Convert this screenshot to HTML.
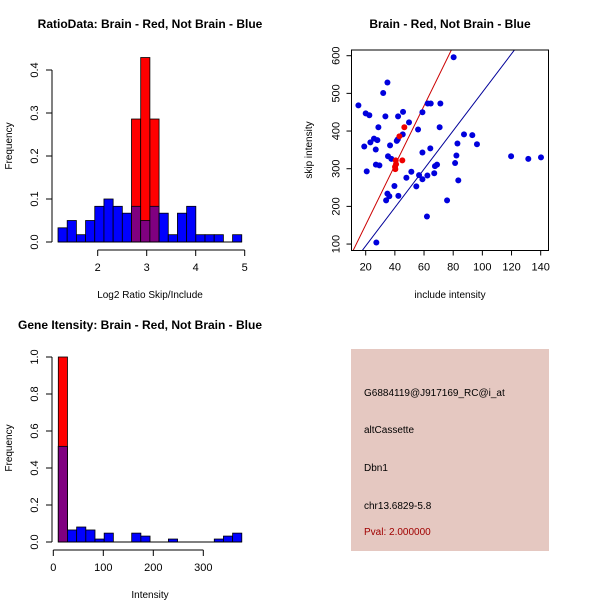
<!DOCTYPE html>
<html><head><meta charset="utf-8"><style>
body{margin:0;background:#fff}
svg{display:block;font-family:"Liberation Sans",sans-serif}
</style></head><body>
<svg id="s" width="600" height="600" xmlns="http://www.w3.org/2000/svg">
<rect width="600" height="600" fill="#fff"/>
<g id="p1"></g>
<g id="p2"></g>
<g id="p3"></g>
<g>
<rect x="351" y="349" width="198" height="202" fill="#e5c8c1"/>
<g font-size="10" fill="#000">
<text x="364" y="396">G6884119@J917169_RC@i_at</text>
<text x="364" y="433">altCassette</text>
<text x="364" y="471">Dbn1</text>
<text x="364" y="509">chr13.6829-5.8</text>
<text x="364" y="535" fill="#a00000">Pval: 2.000000</text>
</g></g>
</svg>
<script>
// Plot 1 data
const ratioBins1Start = 1.19, ratioBinWidth = 0.1875;
const ratioBlue = [0.033,0.05,0.017,0.05,0.083,0.1,0.083,0.067,0.083,0.05,0.083,0.067,0.017,0.067,0.083,0.017,0.017,0.017,0,0.017];
const ratioRed  = [0,0,0,0,0,0,0,0,0.286,0.429,0.286,0,0,0,0,0,0,0,0,0];
const ratioXTicks = [2,3,4,5];
const ratioYTicks = [0.0,0.1,0.2,0.3,0.4];
// Plot 2 data
const incBlue = [15,20,22.5,19,20.7,23.2,25.7,26.9,28,28.7,27,29.4,27.3,32,34.9,33.5,35.3,36.7,37.6,34.9,36.2,34,39.7,42.2,41.3,42,45.4,45.6,42.4,47.9,49.7,51.3,54.7,55.9,58.9,56.6,58.9,58.9,62,62.3,62.5,64.6,64.3,67,67.5,68.9,70.7,71.2,75.8,80.3,81.3,82.2,82.9,83.5,87.4,93.1,96.3,119.7,131.5,140.2];
const skipBlue = [468,447,442,359,293,370,380,351,376,410,311,309,104,501,529,439,333,362,326,234,227,216,254,439,374,378,391,451,228,276,423,292,253,404,450,283,272,343,173,282,473,473,354,288,307,311,410,473,216,596,315,335,367,269,391,389,365,333,326,330];
const incRed = [46.5,43.1,45.1,40.6,40.1,40.3,40.8];
const skipRed = [410,386,322,322,305,299,312];
const lineSlopes = [7.9,5.1];
const lineIntercepts = [-7,-7];
const scatXTicks = [20,40,60,80,100,120,140];
const scatYTicks = [100,200,300,400,500,600];
// Plot 3 data
const intStart = 10, intBinWidth = 18.35;
const intBlue = [0.517,0.065,0.081,0.065,0.016,0.048,0,0,0.048,0.032,0,0,0.016,0,0,0,0,0.016,0.032,0.048];
const intRed  = [1.0,0,0,0,0,0,0,0,0,0,0,0,0,0,0,0,0,0,0,0];
const intXTicks = [0,100,200,300];
const intYTicks = [0.0,0.2,0.4,0.6,0.8,1.0];

const NS="http://www.w3.org/2000/svg";
function mk(parent,tag,attrs,txt){const e=document.createElementNS(NS,tag);for(const k in attrs)e.setAttribute(k,attrs[k]);if(txt!==undefined)e.textContent=txt;parent.appendChild(e);return e;}

function hist(g,o){
  const sx=v=>o.x0px+(v-o.x0)*o.kx, sy=v=>o.y0px-v*o.ky;
  o.blue.forEach((b,i)=>{
    const r=o.red[i], a=o.start+i*o.w, x=sx(a), w=sx(a+o.w)-x;
    if(b>0){const e=mk(g,'rect',{x:x,y:sy(b),width:w,height:sy(0)-sy(b),fill:'#0000ff',stroke:'#000','stroke-width':0.8});
      
      }
    if(r>0){const e=mk(g,'rect',{x:x,y:sy(r),width:w,height:sy(0)-sy(r),fill:'#ff0000',stroke:'#000','stroke-width':0.8});
      
      }
    const m=Math.min(b,r);
    if(m>0){const e=mk(g,'rect',{x:x,y:sy(m),width:w,height:sy(0)-sy(m),fill:'#800080',stroke:'#000','stroke-width':0.8});
      
      }
  });
  const ya=o.yTicks;
  mk(g,'line',{x1:o.yAxisX,x2:o.yAxisX,y1:sy(ya[0]),y2:sy(ya[ya.length-1]),stroke:'#000'});
  ya.forEach(t=>{mk(g,'line',{x1:o.yAxisX-6,x2:o.yAxisX,y1:sy(t),y2:sy(t),stroke:'#000'});
    const lx=o.yAxisX-14;
    const tx=mk(g,'text',{x:lx,y:sy(t),'font-size':11,'text-anchor':'middle',transform:`rotate(-90 ${lx} ${sy(t)})`},t.toFixed(1));
    
    });
  const xa=o.xTicks, axY=o.y0px+8;
  mk(g,'line',{x1:sx(xa[0]),x2:sx(xa[xa.length-1]),y1:axY,y2:axY,stroke:'#000'});
  xa.forEach(t=>{mk(g,'line',{x1:sx(t),x2:sx(t),y1:axY,y2:axY+6,stroke:'#000'});
    const tx=mk(g,'text',{x:sx(t),y:axY+21,'font-size':11,'text-anchor':'middle'},t);
    
    });
  mk(g,'line',{x1:sx(o.start),x2:sx(o.start+o.w*o.blue.length),y1:o.y0px,y2:o.y0px,stroke:'#000'});
}

hist(document.getElementById('p1'),{x0:3,x0px:146.7,kx:49,y0px:242,ky:430,start:ratioBins1Start,w:ratioBinWidth,blue:ratioBlue,red:ratioRed,xTicks:ratioXTicks,yTicks:ratioYTicks,yAxisX:52});
hist(document.getElementById('p3'),{x0:0,x0px:53.3,kx:0.5,y0px:542,ky:185,start:intStart,w:intBinWidth,blue:intBlue,red:intRed,xTicks:intXTicks,yTicks:intYTicks,yAxisX:52});

(function(){
  const g=document.getElementById('p2');
  const sx=v=>365.7+(v-20)*1.4583, sy=v=>55.7+(600-v)*0.3767;
  const L=351.5,R=548.5,T=50,B=250.5;
  mk(g,'defs',{}).innerHTML='<clipPath id="cp"><rect x="'+L+'" y="'+T+'" width="'+(R-L)+'" height="'+(B-T)+'"/></clipPath>';
  const cols=['#cc0000','#000099'];
  lineSlopes.forEach((s,i)=>{const xa=0,xb=200;
    const e=mk(g,'line',{x1:sx(xa),y1:sy(s*xa+lineIntercepts[i]),x2:sx(xb),y2:sy(s*xb+lineIntercepts[i]),stroke:cols[i],'clip-path':'url(#cp)'});
    
    });
  incBlue.forEach((v,i)=>{const c=mk(g,'circle',{cx:sx(v),cy:sy(skipBlue[i]),r:3,fill:'#0000dd'});
    
    });
  incRed.forEach((v,i)=>{const c=mk(g,'circle',{cx:sx(v),cy:sy(skipRed[i]),r:3,fill:'#ee0000'});
    
    });
  mk(g,'rect',{x:L,y:T,width:R-L,height:B-T,fill:'none',stroke:'#000'});
  scatXTicks.forEach(t=>{mk(g,'line',{x1:sx(t),x2:sx(t),y1:B,y2:B+5,stroke:'#000'});
    const tx=mk(g,'text',{x:sx(t),y:B+20,'font-size':11,'text-anchor':'middle'},t);
    
    });
  scatYTicks.forEach(t=>{mk(g,'line',{x1:L-5,x2:L,y1:sy(t),y2:sy(t),stroke:'#000'});
    const lx=L-12;
    const tx=mk(g,'text',{x:lx,y:sy(t),'font-size':11,'text-anchor':'middle',transform:`rotate(-90 ${lx} ${sy(t)})`},t);
    
    });
})();

const s=document.getElementById('s');
[[150,28,'RatioData: Brain - Red, Not Brain - Blue','ratio-title'],[450,28,'Brain - Red, Not Brain - Blue','scatter-title'],[140,329,'Gene Itensity: Brain - Red, Not Brain - Blue','intensity-title']].forEach(d=>{
  const t=mk(s,'text',{x:d[0],y:d[1],'font-size':12,'font-weight':'bold','text-anchor':'middle'},d[2]);
  
  });
[[150,298,'Log2 Ratio Skip/Include','ratio-x-title'],[450,298,'include intensity','scatter-x-title'],[150,598,'Intensity','intensity-x-title']].forEach(d=>{
  const t=mk(s,'text',{x:d[0],y:d[1],'font-size':10,'text-anchor':'middle'},d[2]);
  
  });
[[12,146,'Frequency','ratio-y-title'],[312,150,'skip intensity','scatter-y-title'],[12,448,'Frequency','intensity-y-title']].forEach(d=>{
  const t=mk(s,'text',{x:d[0],y:d[1],'font-size':10,'text-anchor':'middle',transform:`rotate(-90 ${d[0]} ${d[1]})`},d[2]);
  
  });
</script>
</body></html>
